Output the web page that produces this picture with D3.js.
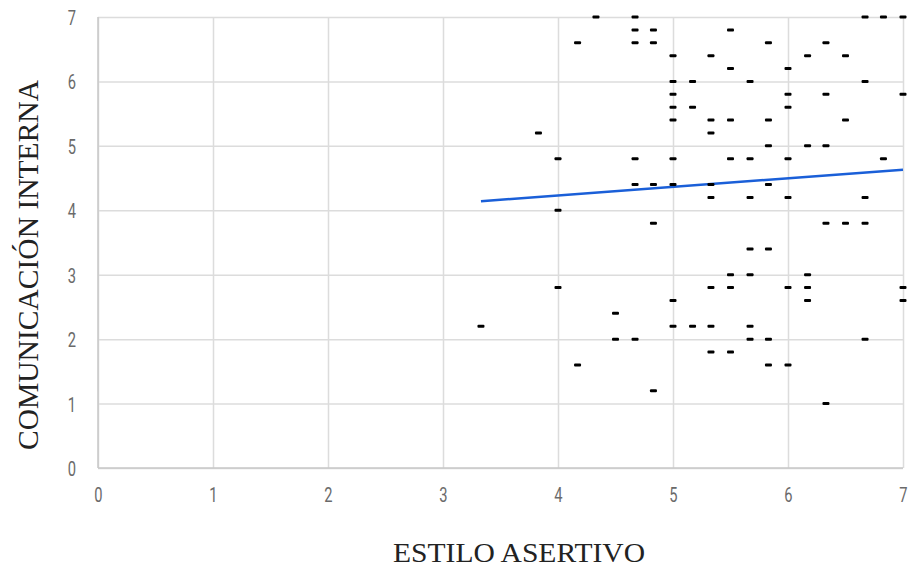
<!DOCTYPE html>
<html>
<head>
<meta charset="utf-8">
<script src="https://cdn.jsdelivr.net/npm/d3@7"></script>
<style>
  body { margin: 0; background: #fff; }
  .tick text { font-family: "Liberation Sans Narrow", "Arial Narrow", "Roboto", sans-serif; fill: #6a6a6a; }
  .title { font-family: "Liberation Serif", serif; fill: #222; }
</style>
</head>
<body>
<script>
// ESTILO ASERTIVO (x) vs COMUNICACIÓN INTERNA (y)
const points = [
  [4.33, 7], [4.67, 7], [6.67, 7], [6.83, 7], [7, 7],
  [4.67, 6.8], [4.83, 6.8], [5.5, 6.8],
  [4.17, 6.6], [4.67, 6.6], [4.83, 6.6], [5.83, 6.6], [6.33, 6.6],
  [5, 6.4], [5.33, 6.4], [6.17, 6.4], [6.5, 6.4],
  [5.5, 6.2], [6, 6.2],
  [5, 6], [5.17, 6], [5.67, 6], [6.67, 6],
  [5, 5.8], [6, 5.8], [6.33, 5.8], [7, 5.8],
  [5, 5.6], [5.17, 5.6], [6, 5.6],
  [5, 5.4], [5.33, 5.4], [5.5, 5.4], [5.83, 5.4], [6.5, 5.4],
  [3.83, 5.2], [5.33, 5.2],
  [5.83, 5], [6.17, 5], [6.33, 5],
  [4, 4.8], [4.67, 4.8], [5, 4.8], [5.5, 4.8], [5.67, 4.8], [6, 4.8], [6.83, 4.8],
  [4.67, 4.4], [4.83, 4.4], [5, 4.4], [5.33, 4.4], [5.83, 4.4],
  [5.33, 4.2], [5.67, 4.2], [6, 4.2], [6.67, 4.2],
  [4, 4],
  [4.83, 3.8], [6.33, 3.8], [6.5, 3.8], [6.67, 3.8],
  [5.67, 3.4], [5.83, 3.4],
  [5.5, 3], [5.67, 3], [6.17, 3],
  [4, 2.8], [5.33, 2.8], [5.5, 2.8], [6, 2.8], [6.17, 2.8], [7, 2.8],
  [5, 2.6], [6.17, 2.6], [7, 2.6],
  [4.5, 2.4],
  [3.33, 2.2], [5, 2.2], [5.17, 2.2], [5.33, 2.2], [5.67, 2.2],
  [4.5, 2], [4.67, 2], [5.67, 2], [5.83, 2], [6.67, 2],
  [5.33, 1.8], [5.5, 1.8],
  [4.17, 1.6], [5.83, 1.6], [6, 1.6],
  [4.83, 1.2],
  [6.33, 1]
];

// trendline ends as drawn
const trendX = [3.33, 7];
const trendY = [4.14, 4.63];

const xTicks = [0, 1, 2, 3, 4, 5, 6, 7];
const yTicks = [0, 1, 2, 3, 4, 5, 6, 7];

const width = 909, height = 570;
const margin = {top: 17, right: 6, bottom: 102, left: 98};

const svg = d3.select('body').append('svg')
  .attr('width', width)
  .attr('height', height);

const x = d3.scaleLinear().domain([0, 7]).range([margin.left, width - margin.right]);
const y = d3.scaleLinear().domain([0, 7]).range([height - margin.bottom, margin.top]);

// grid + tick labels (labels squeezed sideways, like the narrow font in the original)
svg.append('g')
  .attr('transform', `translate(0,${height - margin.bottom})`)
  .call(d3.axisBottom(x).tickValues(xTicks).tickSize(-(height - margin.top - margin.bottom)).tickFormat(d3.format('d')))
  .call(g => g.select('.domain').remove())
  .call(g => g.selectAll('.tick line').attr('stroke', '#dcdcdc').attr('stroke-width', 1.5))
  .call(g => g.selectAll('.tick text')
    .attr('font-size', 21)
    .attr('y', 0).attr('dy', 0)
    .attr('transform', 'translate(0,34) scale(0.7,1)'));

svg.append('g')
  .attr('transform', `translate(${margin.left},0)`)
  .call(d3.axisLeft(y).tickValues(yTicks).tickSize(-(width - margin.left - margin.right)).tickFormat(d3.format('d')))
  .call(g => g.select('.domain').remove())
  .call(g => g.selectAll('.tick line').attr('stroke', '#dcdcdc').attr('stroke-width', 1.5))
  .call(g => g.selectAll('.tick text')
    .attr('font-size', 21)
    .attr('x', 0).attr('dy', '0.36em')
    .attr('transform', 'translate(-22,0) scale(0.7,1)'));

// axis lines
svg.append('line')
  .attr('x1', margin.left).attr('x2', width - margin.right)
  .attr('y1', y(0)).attr('y2', y(0))
  .attr('stroke', '#c8c8c8').attr('stroke-width', 1.5);
svg.append('line')
  .attr('x1', margin.left).attr('x2', margin.left)
  .attr('y1', y(0)).attr('y2', y(7))
  .attr('stroke', '#c8c8c8').attr('stroke-width', 1.5);

// trendline
svg.append('line')
  .attr('x1', x(trendX[0])).attr('y1', y(trendY[0]))
  .attr('x2', x(trendX[1])).attr('y2', y(trendY[1]))
  .attr('stroke', '#1a5fd8')
  .attr('stroke-width', 2.5);

// points are short dashes
svg.append('g')
  .selectAll('rect')
  .data(points)
  .join('rect')
  .attr('x', d => x(d[0]) - 3.5)
  .attr('y', d => y(d[1]) - 1.5)
  .attr('width', 7)
  .attr('height', 3)
  .attr('rx', 1)
  .attr('fill', '#000');

svg.append('text')
  .attr('class', 'title')
  .attr('x', 519).attr('y', 562)
  .attr('text-anchor', 'middle')
  .attr('font-size', 28)
  .attr('textLength', 252)
  .attr('lengthAdjust', 'spacingAndGlyphs')
  .text('ESTILO ASERTIVO');

svg.append('text')
  .attr('class', 'title')
  .attr('transform', 'translate(38,265) rotate(-90)')
  .attr('text-anchor', 'middle')
  .attr('font-size', 29)
  .attr('textLength', 370)
  .attr('lengthAdjust', 'spacingAndGlyphs')
  .text('COMUNICACIÓN INTERNA');
</script>
</body>
</html>
